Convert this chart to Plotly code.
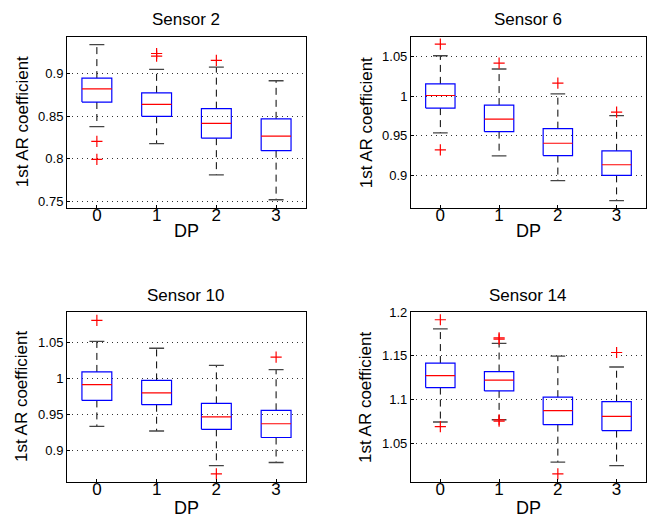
import plotly.graph_objects as go

# ---------------- data ----------------
dp = [0, 1, 2, 3]
dp_labels = ["0", "1", "2", "3"]
titles = ["Sensor 2", "Sensor 6", "Sensor 10", "Sensor 14"]

# Sensor 2
s2_lo = [0.8378, 0.8177, 0.781, 0.7516]
s2_q1 = [0.8668, 0.850, 0.8242, 0.8095]
s2_med = [0.8822, 0.864, 0.8416, 0.8266]
s2_q3 = [0.895, 0.8776, 0.859, 0.847]
s2_hi = [0.9344, 0.9054, 0.908, 0.8919]
s2_out = [[0.8204, 0.7991], [0.924, 0.921], [0.9158], []]

# Sensor 6
s6_lo = [0.9535, 0.9246, 0.8933, 0.8682]
s6_q1 = [0.9848, 0.9551, 0.925, 0.900]
s6_med = [1.0007, 0.971, 0.9405, 0.9134]
s6_q3 = [1.0153, 0.9886, 0.9589, 0.9309]
s6_hi = [1.0508, 1.0341, 1.0028, 0.9752]
s6_out = [[1.0655, 0.9322], [1.0416], [1.0162], [0.9798]]

# Sensor 10
s10_lo = [0.9329, 0.9265, 0.8781, 0.8826]
s10_q1 = [0.9691, 0.9631, 0.9288, 0.9174]
s10_med = [0.991, 0.9796, 0.9462, 0.9366]
s10_q3 = [1.0088, 0.997, 0.965, 0.9553]
s10_hi = [1.0514, 1.0418, 1.018, 1.012]
s10_out = [[1.0806], [], [0.8666], [1.0294]]

# Sensor 14
s14_lo = [1.0741, 1.0767, 1.0282, 1.0241]
s14_q1 = [1.1136, 1.1098, 1.0711, 1.0643]
s14_med = [1.1274, 1.1222, 1.0872, 1.0805]
s14_q3 = [1.1417, 1.132, 1.1026, 1.0974]
s14_hi = [1.1808, 1.1643, 1.1496, 1.1372]
s14_out = [[1.1914, 1.0688], [1.1707, 1.1692, 1.0767, 1.0752], [1.0147], [1.1538]]

y_ranges = [[0.742, 0.944], [0.859, 1.075], [0.856, 1.092], [1.0058, 1.2]]
y_ticks = [[0.75, 0.8, 0.85, 0.9], [0.9, 0.95, 1.0, 1.05],
           [0.9, 0.95, 1.0, 1.05], [1.05, 1.1, 1.15, 1.2]]
y_ticktext = [["0.75", "0.8", "0.85", "0.9"], ["0.9", "0.95", "1", "1.05"],
              ["0.9", "0.95", "1", "1.05"], ["1.05", "1.1", "1.15", "1.2"]]

stats = [
    (s2_lo, s2_q1, s2_med, s2_q3, s2_hi, s2_out),
    (s6_lo, s6_q1, s6_med, s6_q3, s6_hi, s6_out),
    (s10_lo, s10_q1, s10_med, s10_q3, s10_hi, s10_out),
    (s14_lo, s14_q1, s14_med, s14_q3, s14_hi, s14_out),
]

# ---------------- layout geometry ----------------
x_domains = [[0.1012, 0.4622], [0.6208, 0.9758], [0.1012, 0.4622], [0.6208, 0.9758]]
y_domains = [[0.6084, 0.9424], [0.6084, 0.9424], [0.0749, 0.405], [0.0749, 0.405]]

BW = 0.25   # half box width
CW = 0.125  # half cap width
FONT = "Liberation Sans, Arial, Helvetica, sans-serif"

fig = go.Figure()

for k, (lo, q1, med, q3, hi, outs) in enumerate(stats):
    xa = "x" if k == 0 else f"x{k+1}"
    ya = "y" if k == 0 else f"y{k+1}"

    wx, wy, cx, cy, bx, by, mx, my, ox, oy = [], [], [], [], [], [], [], [], [], []
    for i, d in enumerate(dp):
        wx += [d, d, None, d, d, None]
        wy += [q3[i], hi[i], None, q1[i], lo[i], None]
        cx += [d - CW, d + CW, None, d - CW, d + CW, None]
        cy += [hi[i], hi[i], None, lo[i], lo[i], None]
        bx += [d - BW, d + BW, d + BW, d - BW, d - BW, None]
        by += [q1[i], q1[i], q3[i], q3[i], q1[i], None]
        mx += [d - BW, d + BW, None]
        my += [med[i], med[i], None]
        for v in outs[i]:
            ox.append(d)
            oy.append(v)

    fig.add_trace(go.Scatter(x=wx, y=wy, mode="lines", xaxis=xa, yaxis=ya,
                             line=dict(color="black", width=1, dash="7px,5px"),
                             hoverinfo="skip", showlegend=False))
    fig.add_trace(go.Scatter(x=cx, y=cy, mode="lines", xaxis=xa, yaxis=ya,
                             line=dict(color="#444444", width=1.3),
                             hoverinfo="skip", showlegend=False))
    fig.add_trace(go.Scatter(x=bx, y=by, mode="lines", xaxis=xa, yaxis=ya,
                             line=dict(color="#0000ff", width=1.2),
                             showlegend=False))
    fig.add_trace(go.Scatter(x=mx, y=my, mode="lines", xaxis=xa, yaxis=ya,
                             line=dict(color="#ff0000", width=1.2),
                             showlegend=False))
    fig.add_trace(go.Scatter(x=ox, y=oy, mode="markers", xaxis=xa, yaxis=ya,
                             marker=dict(symbol="cross-thin", size=8,
                                         line=dict(color="#ff0000", width=1.2)),
                             showlegend=False))

    sfx = "" if k == 0 else str(k + 1)
    fig.layout["xaxis" + sfx] = dict(
        domain=x_domains[k], anchor=ya, range=[-0.5, 3.5],
        tickvals=dp, ticktext=dp_labels, showgrid=False, zeroline=False,
        showline=True, linecolor="black", linewidth=1, mirror=True,
        ticks="inside", ticklen=3, tickcolor="black", ticklabelstandoff=-8,
        tickfont=dict(family=FONT, size=17, color="black"),
    )
    fig.layout["yaxis" + sfx] = dict(
        domain=y_domains[k], anchor=xa, range=y_ranges[k],
        tickvals=y_ticks[k], ticktext=y_ticktext[k],
        showgrid=True, gridcolor="#333333", griddash="1px,4px", gridwidth=1,
        zeroline=False, showline=True, linecolor="black", linewidth=1, mirror=True,
        ticks="inside", ticklen=3, tickcolor="black",
        tickfont=dict(family=FONT, size=13, color="black"),
    )

annotations = []
title_y = [1 - 13 / 521, 1 - 13 / 521, 1 - 293 / 521, 1 - 293 / 521]
dp_y = [1 - 228 / 521, 1 - 228 / 521, 1 - 509 / 521, 1 - 509 / 521]
ylab_x = [22 / 662, 366 / 662, 22 / 662, 366 / 662]
for k in range(4):
    xc = (x_domains[k][0] + x_domains[k][1]) / 2
    yc = (y_domains[k][0] + y_domains[k][1]) / 2
    annotations.append(dict(text=titles[k], x=xc, y=title_y[k], xref="paper", yref="paper",
                            showarrow=False, xanchor="center", yanchor="middle",
                            font=dict(family=FONT, size=17, color="black")))
    annotations.append(dict(text="DP", x=xc, y=dp_y[k], xref="paper", yref="paper",
                            showarrow=False, xanchor="center", yanchor="middle",
                            font=dict(family=FONT, size=18, color="black")))
    annotations.append(dict(text="1st AR coefficient", x=ylab_x[k], y=yc,
                            xref="paper", yref="paper", textangle=-90,
                            showarrow=False, xanchor="center", yanchor="middle",
                            font=dict(family=FONT, size=17, color="black")))

fig.update_layout(
    width=662, height=521, margin=dict(l=0, r=0, t=0, b=0),
    paper_bgcolor="white", plot_bgcolor="white",
    annotations=annotations, showlegend=False,
)

fig.write_html("out.html", config={"displayModeBar": False},
               post_script="document.body.style.margin='0';document.body.style.padding='0';")
